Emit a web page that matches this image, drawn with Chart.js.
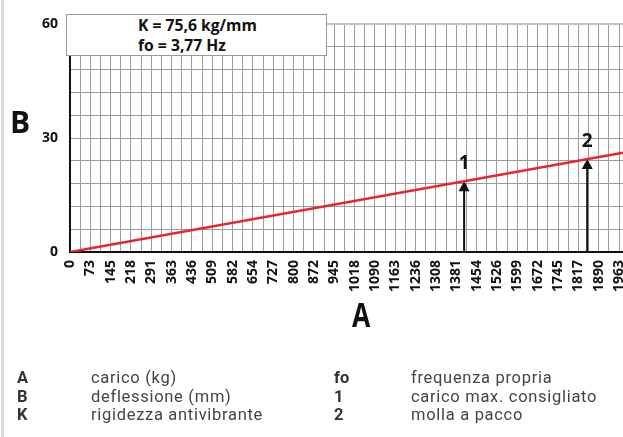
<!DOCTYPE html>
<html>
<head>
<meta charset="utf-8">
<script src="https://cdn.jsdelivr.net/npm/chart.js@4/dist/chart.umd.min.js"></script>
<style>
  html, body { margin: 0; padding: 0; background: #fff; overflow: hidden; width: 623px; height: 437px; }
  #wrap { position: relative; width: 623px; height: 437px; }
  canvas { position: absolute; left: 0; top: 0; }
  .abs { position: absolute; white-space: nowrap; }
  #edge { position: absolute; left: 1px; top: 0; width: 3px; height: 437px; background: #d3dfd3; }
  #box { position: absolute; left: 66px; top: 14px; width: 259px; height: 40px; border: 1px solid #9a9a9a; background: #fff;
         font: bold 15.7px "Open Sans", sans-serif; color: #111; }
  #box div { position: absolute; left: 71px; line-height: 20px; }
  .axlab { font-family: "Open Sans", sans-serif; font-weight: bold; color: #111; line-height: 1; }
  .leg { font-family: Roboto, sans-serif; font-size: 16.5px; line-height: 18.3px; color: #444; letter-spacing: 0.7px; }
  .leg.b { font-weight: bold; color: #333; letter-spacing: 0; }
</style>
</head>
<body>
<div id="wrap">
  <canvas id="c" width="623" height="437"></canvas>
  <div id="edge"></div>
  <div id="box"></div>
  <div class="abs axlab" id="labB" style="left:10px; top:107px; font-size:30px;"></div>
  <div class="abs axlab" id="labA" style="left:352px; top:297px; font-size:34px; transform:scaleX(0.78); transform-origin:0 0;"></div>
  <div id="legend"></div>
</div>
<script>
// ---- data ----
const xTickLabels = [0, 73, 145, 218, 291, 363, 436, 509, 582, 654, 727, 800, 872, 945, 1018, 1090, 1163, 1236, 1308, 1381, 1454, 1526, 1599, 1672, 1745, 1817, 1890, 1963];
const yTickLabels = [0, 30, 60];
const xMax = 1977;
const yMax = 60;
const yGridStep = 6;
const lineLoads = [0, 1977];          // carico (kg)
const lineDeflections = [0, 26.15];   // deflessione (mm)
const arrowLoads = [1409, 1849];
const arrowDeflections = [18.64, 24.46];
const arrowLabels = ['1', '2'];
const boxLines = ['K = 75,6 kg/mm', 'fo = 3,77 Hz'];
const axisTitleX = 'A';
const axisTitleY = 'B';
const legendKeys1 = ['A', 'B', 'K'];
const legendTexts1 = ['carico (kg)', 'deflessione (mm)', 'rigidezza antivibrante'];
const legendKeys2 = ['fo', '1', '2'];
const legendTexts2 = ['frequenza propria', 'carico max. consigliato', 'molla a pacco'];

// ---- html texts ----
const box = document.getElementById('box');
boxLines.forEach((t, i) => {
  const d = document.createElement('div');
  d.textContent = t;
  d.style.top = (i === 0 ? 0 : 20) + 'px';
  box.appendChild(d);
});
document.getElementById('labB').textContent = axisTitleY;
document.getElementById('labA').textContent = axisTitleX;
const legend = document.getElementById('legend');
function addLeg(text, left, top, bold) {
  const d = document.createElement('div');
  d.className = 'abs leg' + (bold ? ' b' : '');
  d.style.left = left + 'px';
  d.style.top = top + 'px';
  d.textContent = text;
  legend.appendChild(d);
}
for (let i = 0; i < 3; i++) {
  const top = 369.2 + i * 18.3;
  addLeg(legendKeys1[i], 17, top, true);
  addLeg(legendTexts1[i], 91, top, false);
  addLeg(legendKeys2[i], 334, top, true);
  addLeg(legendTexts2[i], 411, top, false);
}

// ---- arrows plugin ----
const arrowPlugin = {
  id: 'arrows',
  beforeDatasetsDraw(chart) {
    const ctx = chart.ctx;
    const xs = chart.scales.x, ys = chart.scales.y;
    ctx.save();
    arrowLoads.forEach((v, i) => {
      const x = xs.getPixelForValue(v);
      const yTip = ys.getPixelForValue(arrowDeflections[i]);
      const y0 = ys.getPixelForValue(0);
      ctx.strokeStyle = '#111';
      ctx.lineWidth = 2;
      ctx.beginPath();
      ctx.moveTo(x, y0);
      ctx.lineTo(x, yTip + 8);
      ctx.stroke();
      ctx.fillStyle = '#111';
      ctx.beginPath();
      ctx.moveTo(x, yTip);
      ctx.lineTo(x - 5.5, yTip + 10);
      ctx.lineTo(x + 5.5, yTip + 10);
      ctx.closePath();
      ctx.fill();
      ctx.font = 'bold 19px "Open Sans", sans-serif';
      ctx.textAlign = 'center';
      ctx.textBaseline = 'alphabetic';
      ctx.fillText(arrowLabels[i], x, yTip - 12.5);
    });
    ctx.restore();
  }
};

const gridColor = (ctx) => (ctx.tick && ctx.tick.value === 0) ? 'rgba(0,0,0,0)' : '#9a9a9a';

new Chart(document.getElementById('c'), {
  type: 'line',
  data: {
    datasets: [{
      data: lineLoads.map((x, i) => ({ x: x, y: lineDeflections[i] })),
      borderColor: '#e52630',
      borderWidth: 2.5,
      pointRadius: 0,
      tension: 0,
      fill: false
    }]
  },
  options: {
    responsive: false,
    animation: false,
    devicePixelRatio: 1,
    layout: { padding: { top: 24, left: 0, right: 0, bottom: 135 } },
    plugins: { legend: { display: false }, tooltip: { enabled: false } },
    scales: {
      x: {
        type: 'linear',
        min: 0,
        max: xMax,
        afterBuildTicks: (axis) => {
          const t = [];
          xTickLabels.forEach((v, i) => {
            t.push({ value: v });
            if (i < xTickLabels.length - 1) t.push({ value: (v + xTickLabels[i + 1]) / 2 });
          });
          axis.ticks = t;
        },
        afterFit: (s) => { s.height = 50; s.paddingLeft = 0; s.paddingRight = 0; },
        ticks: {
          autoSkip: false,
          minRotation: 90,
          maxRotation: 90,
          padding: 8,
          color: '#111',
          font: { family: '"Open Sans", sans-serif', size: 14, weight: 'bold' },
          callback: (v) => xTickLabels.includes(v) ? String(v) : ''
        },
        grid: { color: gridColor, lineWidth: 1, drawTicks: false },
        border: { display: true, color: '#111', width: 2 }
      },
      y: {
        min: 0,
        max: yMax,
        afterBuildTicks: (axis) => {
          const t = [];
          for (let v = 0; v <= yMax; v += yGridStep) t.push({ value: v });
          axis.ticks = t;
        },
        afterFit: (s) => { s.width = 70; s.paddingTop = 0; s.paddingBottom = 0; },
        ticks: {
          autoSkip: false,
          padding: 12,
          color: '#111',
          font: { family: '"Open Sans", sans-serif', size: 14, weight: 'bold' },
          callback: (v) => yTickLabels.includes(v) ? String(v) : ''
        },
        grid: {
          color: (ctx) => (ctx.tick && ctx.tick.value === 0) ? 'rgba(0,0,0,0)' : (ctx.tick && ctx.tick.value === yMax ? '#c4c4c4' : '#9a9a9a'),
          lineWidth: (ctx) => (ctx.tick && ctx.tick.value === yMax) ? 2 : 1,
          drawTicks: false
        },
        border: { display: true, color: '#111', width: 2 }
      }
    }
  },
  plugins: [arrowPlugin]
});
</script>
</body>
</html>
